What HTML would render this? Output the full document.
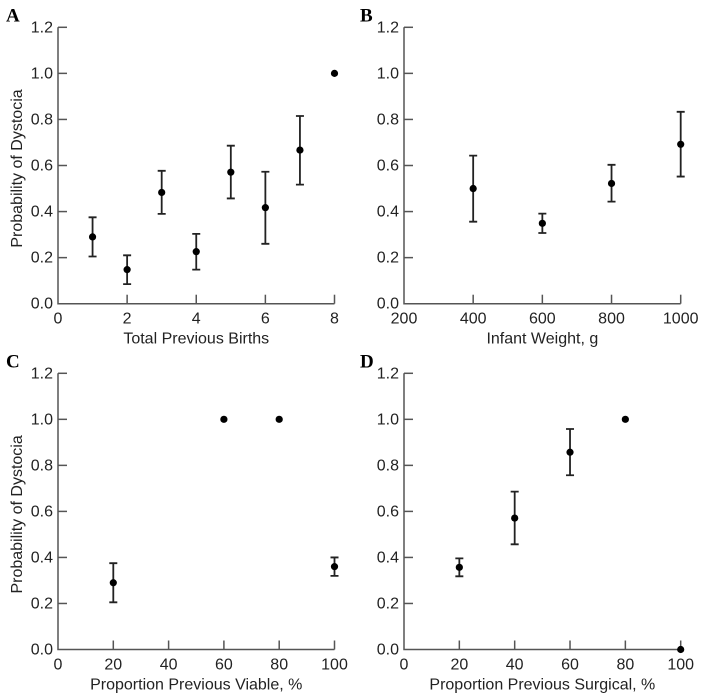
<!DOCTYPE html>
<html><head><meta charset="utf-8"><style>
html,body{margin:0;padding:0;background:#fff;}
svg{display:block;font-family:"Liberation Sans",Arial,sans-serif;}
</style></head><body>
<svg id="chart" width="704" height="699" viewBox="0 0 704 699"></svg>
<script>
const aX=[1,2,3,4,5,6,7,8];
const aY=[0.29,0.148,0.483,0.226,0.571,0.417,0.667,1.0];
const aLo=[0.205,0.085,0.39,0.148,0.457,0.26,0.517,null];
const aHi=[0.375,0.21,0.577,0.303,0.686,0.573,0.815,null];
const bX=[400,600,800,1000];
const bY=[0.5,0.349,0.522,0.692];
const bLo=[0.356,0.307,0.443,0.552];
const bHi=[0.643,0.391,0.603,0.833];
const cX=[20,60,80,100];
const cY=[0.29,1.0,1.0,0.36];
const cLo=[0.205,null,null,0.32];
const cHi=[0.375,null,null,0.40];
const dX=[20,40,60,80,100];
const dY=[0.357,0.571,0.857,1.0,0.0];
const dLo=[0.318,0.457,0.757,null,null];
const dHi=[0.396,0.686,0.958,null,null];
const yTicks=[0,0.2,0.4,0.6,0.8,1.0,1.2];
const aTicks=[0,2,4,6,8];
const bTicks=[200,400,600,800,1000];
const pctTicks=[0,20,40,60,80,100];

const NS="http://www.w3.org/2000/svg";
const svg=document.getElementById('chart');
function mk(t,a,p){const e=document.createElementNS(NS,t);for(const k in a)e.setAttribute(k,a[k]);(p||svg).appendChild(e);return e;}

function panel(o){
  const g=mk('g',{});
  
  
  const sx=v=>o.x0+(v-o.xmin)/(o.xmax-o.xmin)*(o.x1-o.x0);
  const sy=v=>o.y0-(v/1.2)*(o.y0-o.y1);
  const lt=mk('text',{x:o.lx,y:o.y1-6,'font-family':'"Liberation Serif",serif','font-weight':'bold','font-size':'19'},g);
  lt.textContent=o.letter;
  
  
  const ax=mk('path',{d:`M${o.x0},${o.y1} V${o.y0} H${o.x1}`,stroke:'#555',fill:'none','stroke-width':'1.5'},g);
  
  
  yTicks.forEach(v=>{
    const y=sy(v);
    if(v>0) mk('line',{x1:o.x0,x2:o.x0+9,y1:y,y2:y,stroke:'#555','stroke-width':'1.5'},g);
    const t=mk('text',{x:o.x0-5,y:y+5,'text-anchor':'end','font-size':'16',fill:'#222'},g);
    t.textContent=v.toFixed(1);
    
    
  });
  o.ticks.forEach(v=>{
    const x=sx(v);
    if(v>o.xmin) mk('line',{x1:x,x2:x,y1:o.y0,y2:o.y0-9,stroke:'#555','stroke-width':'1.5'},g);
    const t=mk('text',{x:x,y:o.y0+20,'text-anchor':'middle','font-size':'16',fill:'#222'},g);
    t.textContent=v;
    
    
  });
  const xt=mk('text',{x:(o.x0+o.x1)/2,y:o.y0+40,'text-anchor':'middle','font-size':'16',fill:'#222'},g);
  xt.textContent=o.xtitle;
  
  
  if(o.ytitle){
    const cy=(o.y0+o.y1)/2+3;
    const yt=mk('text',{x:22,y:cy,'text-anchor':'middle','font-size':'16',fill:'#222',transform:`rotate(-90 22 ${cy})`},g);
    yt.textContent=o.ytitle;
    
    
  }
  o.xs.forEach((v,i)=>{
    const x=sx(v);
    if(o.lo[i]!=null){
      const eb=mk('path',{d:`M${x},${sy(o.lo[i])} V${sy(o.hi[i])} M${x-4},${sy(o.lo[i])} H${x+4} M${x-4},${sy(o.hi[i])} H${x+4}`,stroke:'#222',fill:'none','stroke-width':'1.8'},g);
      
      
    }
    const c=mk('circle',{cx:x,cy:sy(o.ys[i]),r:3.6,fill:'#000'},g);
    
    
  });
}
panel({name:'panel-a',letter:'A',lx:6,x0:58,x1:334.5,y0:303.7,y1:27.3,xmin:0,xmax:8,ticks:aTicks,xtitle:'Total Previous Births',ytitle:'Probability of Dystocia',xs:aX,ys:aY,lo:aLo,hi:aHi});
panel({name:'panel-b',letter:'B',lx:360,x0:404,x1:680.7,y0:303.7,y1:27.3,xmin:200,xmax:1000,ticks:bTicks,xtitle:'Infant Weight, g',ytitle:null,xs:bX,ys:bY,lo:bLo,hi:bHi});
panel({name:'panel-c',letter:'C',lx:6,x0:58,x1:334.5,y0:649.5,y1:373.3,xmin:0,xmax:100,ticks:pctTicks,xtitle:'Proportion Previous Viable, %',ytitle:'Probability of Dystocia',xs:cX,ys:cY,lo:cLo,hi:cHi});
panel({name:'panel-d',letter:'D',lx:360,x0:404,x1:680.7,y0:649.5,y1:373.3,xmin:0,xmax:100,ticks:pctTicks,xtitle:'Proportion Previous Surgical, %',ytitle:null,xs:dX,ys:dY,lo:dLo,hi:dHi});
</script>
</body></html>
